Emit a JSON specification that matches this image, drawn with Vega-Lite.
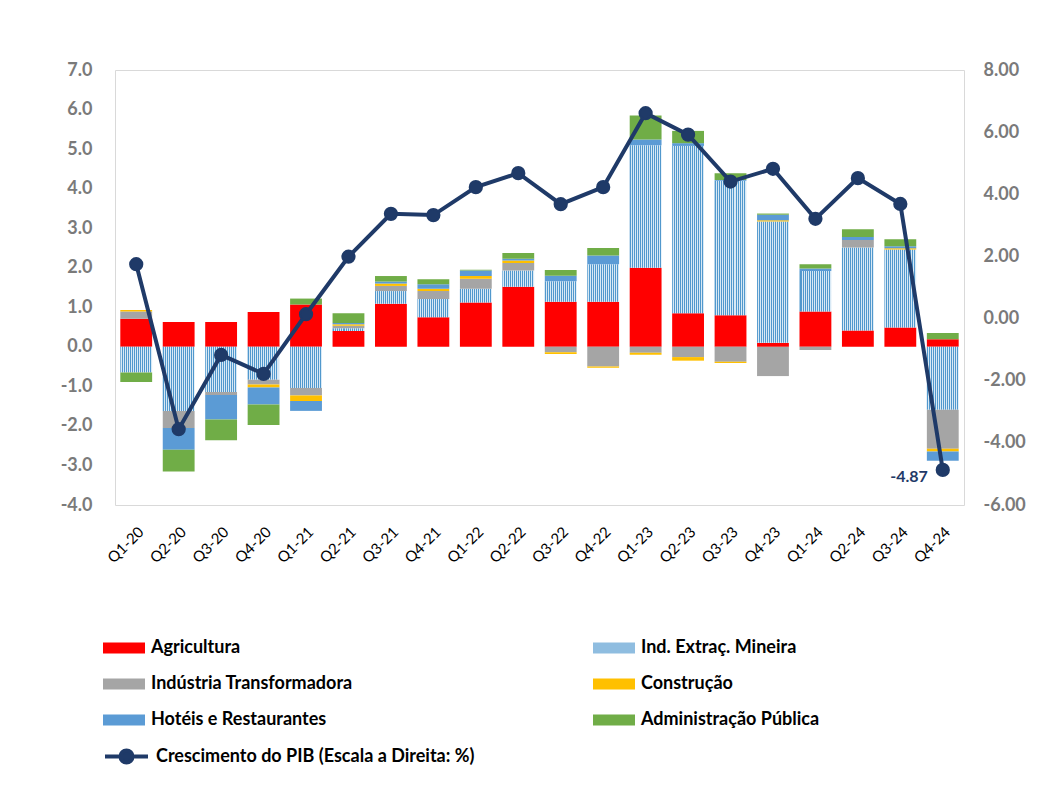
{
  "$schema": "https://vega.github.io/schema/vega-lite/v6.json",
  "width": 849,
  "height": 435,
  "autosize": {"type": "none"},
  "padding": {"left": 115, "top": 70, "right": 78, "bottom": 287},
  "background": "white",
  "config": {
    "view": {"stroke": "#d9d9d9", "strokeWidth": 1},
    "font": "Lato",
    "axis": {"labelOverlap": false},
    "locale": {"number": {"decimal": ".", "thousands": ",", "grouping": [3], "currency": ["$", ""], "minus": "-"}}
  },
  "datasets": {
    "series": [
      {"s": "Agricultura", "k": 1}, {"s": "Ind. Extraç. Mineira", "k": 2}, {"s": "Indústria Transformadora", "k": 3},
      {"s": "Construção", "k": 4}, {"s": "Hotéis e Restaurantes", "k": 5}, {"s": "Administração Pública", "k": 6}
    ],
    "sectors": [
      {"q": "Q1-20", "s": "Agricultura", "v": 0.71}, {"q": "Q1-20", "s": "Ind. Extraç. Mineira", "v": -0.65}, {"q": "Q1-20", "s": "Indústria Transformadora", "v": 0.18}, {"q": "Q1-20", "s": "Construção", "v": 0.04}, {"q": "Q1-20", "s": "Hotéis e Restaurantes", "v": 0}, {"q": "Q1-20", "s": "Administração Pública", "v": -0.24},
      {"q": "Q2-20", "s": "Agricultura", "v": 0.63}, {"q": "Q2-20", "s": "Ind. Extraç. Mineira", "v": -1.62}, {"q": "Q2-20", "s": "Indústria Transformadora", "v": -0.43}, {"q": "Q2-20", "s": "Construção", "v": 0}, {"q": "Q2-20", "s": "Hotéis e Restaurantes", "v": -0.55}, {"q": "Q2-20", "s": "Administração Pública", "v": -0.55},
      {"q": "Q3-20", "s": "Agricultura", "v": 0.63}, {"q": "Q3-20", "s": "Ind. Extraç. Mineira", "v": -1.14}, {"q": "Q3-20", "s": "Indústria Transformadora", "v": -0.08}, {"q": "Q3-20", "s": "Construção", "v": 0}, {"q": "Q3-20", "s": "Hotéis e Restaurantes", "v": -0.62}, {"q": "Q3-20", "s": "Administração Pública", "v": -0.52},
      {"q": "Q4-20", "s": "Agricultura", "v": 0.88}, {"q": "Q4-20", "s": "Ind. Extraç. Mineira", "v": -0.83}, {"q": "Q4-20", "s": "Indústria Transformadora", "v": -0.12}, {"q": "Q4-20", "s": "Construção", "v": -0.08}, {"q": "Q4-20", "s": "Hotéis e Restaurantes", "v": -0.43}, {"q": "Q4-20", "s": "Administração Pública", "v": -0.52},
      {"q": "Q1-21", "s": "Agricultura", "v": 1.07}, {"q": "Q1-21", "s": "Ind. Extraç. Mineira", "v": -1.04}, {"q": "Q1-21", "s": "Indústria Transformadora", "v": -0.19}, {"q": "Q1-21", "s": "Construção", "v": -0.14}, {"q": "Q1-21", "s": "Hotéis e Restaurantes", "v": -0.25}, {"q": "Q1-21", "s": "Administração Pública", "v": 0.15},
      {"q": "Q2-21", "s": "Agricultura", "v": 0.40}, {"q": "Q2-21", "s": "Ind. Extraç. Mineira", "v": 0.07}, {"q": "Q2-21", "s": "Indústria Transformadora", "v": 0.06}, {"q": "Q2-21", "s": "Construção", "v": 0.04}, {"q": "Q2-21", "s": "Hotéis e Restaurantes", "v": 0.03}, {"q": "Q2-21", "s": "Administração Pública", "v": 0.25},
      {"q": "Q3-21", "s": "Agricultura", "v": 1.09}, {"q": "Q3-21", "s": "Ind. Extraç. Mineira", "v": 0.32}, {"q": "Q3-21", "s": "Indústria Transformadora", "v": 0.13}, {"q": "Q3-21", "s": "Construção", "v": 0.06}, {"q": "Q3-21", "s": "Hotéis e Restaurantes", "v": 0.05}, {"q": "Q3-21", "s": "Administração Pública", "v": 0.14},
      {"q": "Q4-21", "s": "Agricultura", "v": 0.75}, {"q": "Q4-21", "s": "Ind. Extraç. Mineira", "v": 0.46}, {"q": "Q4-21", "s": "Indústria Transformadora", "v": 0.20}, {"q": "Q4-21", "s": "Construção", "v": 0.06}, {"q": "Q4-21", "s": "Hotéis e Restaurantes", "v": 0.11}, {"q": "Q4-21", "s": "Administração Pública", "v": 0.13},
      {"q": "Q1-22", "s": "Agricultura", "v": 1.12}, {"q": "Q1-22", "s": "Ind. Extraç. Mineira", "v": 0.35}, {"q": "Q1-22", "s": "Indústria Transformadora", "v": 0.25}, {"q": "Q1-22", "s": "Construção", "v": 0.07}, {"q": "Q1-22", "s": "Hotéis e Restaurantes", "v": 0.14}, {"q": "Q1-22", "s": "Administração Pública", "v": 0.02},
      {"q": "Q2-22", "s": "Agricultura", "v": 1.52}, {"q": "Q2-22", "s": "Ind. Extraç. Mineira", "v": 0.41}, {"q": "Q2-22", "s": "Indústria Transformadora", "v": 0.19}, {"q": "Q2-22", "s": "Construção", "v": 0.06}, {"q": "Q2-22", "s": "Hotéis e Restaurantes", "v": 0.05}, {"q": "Q2-22", "s": "Administração Pública", "v": 0.14},
      {"q": "Q3-22", "s": "Agricultura", "v": 1.14}, {"q": "Q3-22", "s": "Ind. Extraç. Mineira", "v": 0.52}, {"q": "Q3-22", "s": "Indústria Transformadora", "v": -0.14}, {"q": "Q3-22", "s": "Construção", "v": -0.04}, {"q": "Q3-22", "s": "Hotéis e Restaurantes", "v": 0.14}, {"q": "Q3-22", "s": "Administração Pública", "v": 0.14},
      {"q": "Q4-22", "s": "Agricultura", "v": 1.14}, {"q": "Q4-22", "s": "Ind. Extraç. Mineira", "v": 0.95}, {"q": "Q4-22", "s": "Indústria Transformadora", "v": -0.50}, {"q": "Q4-22", "s": "Construção", "v": -0.03}, {"q": "Q4-22", "s": "Hotéis e Restaurantes", "v": 0.22}, {"q": "Q4-22", "s": "Administração Pública", "v": 0.19},
      {"q": "Q1-23", "s": "Agricultura", "v": 2.00}, {"q": "Q1-23", "s": "Ind. Extraç. Mineira", "v": 3.10}, {"q": "Q1-23", "s": "Indústria Transformadora", "v": -0.15}, {"q": "Q1-23", "s": "Construção", "v": -0.05}, {"q": "Q1-23", "s": "Hotéis e Restaurantes", "v": 0.14}, {"q": "Q1-23", "s": "Administração Pública", "v": 0.61},
      {"q": "Q2-23", "s": "Agricultura", "v": 0.85}, {"q": "Q2-23", "s": "Ind. Extraç. Mineira", "v": 4.23}, {"q": "Q2-23", "s": "Indústria Transformadora", "v": -0.26}, {"q": "Q2-23", "s": "Construção", "v": -0.09}, {"q": "Q2-23", "s": "Hotéis e Restaurantes", "v": 0.07}, {"q": "Q2-23", "s": "Administração Pública", "v": 0.31},
      {"q": "Q3-23", "s": "Agricultura", "v": 0.80}, {"q": "Q3-23", "s": "Ind. Extraç. Mineira", "v": 3.40}, {"q": "Q3-23", "s": "Indústria Transformadora", "v": -0.38}, {"q": "Q3-23", "s": "Construção", "v": -0.03}, {"q": "Q3-23", "s": "Hotéis e Restaurantes", "v": 0.02}, {"q": "Q3-23", "s": "Administração Pública", "v": 0.17},
      {"q": "Q4-23", "s": "Agricultura", "v": 0.10}, {"q": "Q4-23", "s": "Ind. Extraç. Mineira", "v": 3.07}, {"q": "Q4-23", "s": "Indústria Transformadora", "v": -0.74}, {"q": "Q4-23", "s": "Construção", "v": 0.03}, {"q": "Q4-23", "s": "Hotéis e Restaurantes", "v": 0.14}, {"q": "Q4-23", "s": "Administração Pública", "v": 0.03},
      {"q": "Q1-24", "s": "Agricultura", "v": 0.89}, {"q": "Q1-24", "s": "Ind. Extraç. Mineira", "v": 1.03}, {"q": "Q1-24", "s": "Indústria Transformadora", "v": -0.08}, {"q": "Q1-24", "s": "Construção", "v": 0}, {"q": "Q1-24", "s": "Hotéis e Restaurantes", "v": 0.06}, {"q": "Q1-24", "s": "Administração Pública", "v": 0.11},
      {"q": "Q2-24", "s": "Agricultura", "v": 0.41}, {"q": "Q2-24", "s": "Ind. Extraç. Mineira", "v": 2.10}, {"q": "Q2-24", "s": "Indústria Transformadora", "v": 0.19}, {"q": "Q2-24", "s": "Construção", "v": 0}, {"q": "Q2-24", "s": "Hotéis e Restaurantes", "v": 0.08}, {"q": "Q2-24", "s": "Administração Pública", "v": 0.19},
      {"q": "Q3-24", "s": "Agricultura", "v": 0.49}, {"q": "Q3-24", "s": "Ind. Extraç. Mineira", "v": 1.97}, {"q": "Q3-24", "s": "Indústria Transformadora", "v": 0}, {"q": "Q3-24", "s": "Construção", "v": 0.03}, {"q": "Q3-24", "s": "Hotéis e Restaurantes", "v": 0.05}, {"q": "Q3-24", "s": "Administração Pública", "v": 0.18},
      {"q": "Q4-24", "s": "Agricultura", "v": 0.19}, {"q": "Q4-24", "s": "Ind. Extraç. Mineira", "v": -1.59}, {"q": "Q4-24", "s": "Indústria Transformadora", "v": -0.99}, {"q": "Q4-24", "s": "Construção", "v": -0.07}, {"q": "Q4-24", "s": "Hotéis e Restaurantes", "v": -0.23}, {"q": "Q4-24", "s": "Administração Pública", "v": 0.16}
    ],
    "gdp": [
      {"q": "Q1-20", "g": 1.75}, {"q": "Q2-20", "g": -3.56}, {"q": "Q3-20", "g": -1.17}, {"q": "Q4-20", "g": -1.78},
      {"q": "Q1-21", "g": 0.14}, {"q": "Q2-21", "g": 1.99}, {"q": "Q3-21", "g": 3.37}, {"q": "Q4-21", "g": 3.33},
      {"q": "Q1-22", "g": 4.23}, {"q": "Q2-22", "g": 4.68}, {"q": "Q3-22", "g": 3.68}, {"q": "Q4-22", "g": 4.23},
      {"q": "Q1-23", "g": 6.61}, {"q": "Q2-23", "g": 5.92}, {"q": "Q3-23", "g": 4.41}, {"q": "Q4-23", "g": 4.82},
      {"q": "Q1-24", "g": 3.21}, {"q": "Q2-24", "g": 4.52}, {"q": "Q3-24", "g": 3.69}, {"q": "Q4-24", "g": -4.87}
    ]
  },
  "encoding": {
    "x": {
      "field": "q", "type": "ordinal", "sort": null,
      "scale": {"paddingInner": 0.25, "paddingOuter": 0.125},
      "axis": {"title": null, "labelAngle": -45, "labelFont": "Lato", "labelFontSize": 15, "labelColor": "#000000", "domain": false, "ticks": false, "labelPadding": 19}
    }
  },
  "layer": [
    {
      "layer": [
        {
          "mark": {"type": "rule", "color": "#d9d9d9", "strokeWidth": 2},
          "encoding": {
            "y": {
              "datum": 0, "type": "quantitative",
              "axis": {"orient": "left", "title": null, "values": [-4, -3, -2, -1, 0, 1, 2, 3, 4, 5, 6, 7], "format": ".1f", "labelOverlap": false, "labelFont": "Lato", "labelFontSize": 18, "labelFontWeight": "bold", "labelColor": "#7a7a7a", "domain": false, "ticks": false, "grid": false, "labelPadding": 23}
            },
            "x": null
          }
        },
        {
          "data": {"name": "sectors"},
          "transform": [{"lookup": "s", "from": {"data": {"name": "series"}, "key": "s", "fields": ["k"]}}],
          "mark": {"type": "bar", "strokeWidth": 0},
          "encoding": {
            "y": {
              "field": "v", "type": "quantitative", "stack": "zero",
              "scale": {"domain": [-4, 7], "nice": false},
              "axis": {"orient": "left", "title": null, "values": [-4, -3, -2, -1, 0, 1, 2, 3, 4, 5, 6, 7], "format": ".1f", "labelOverlap": false, "labelFont": "Lato", "labelFontSize": 18, "labelFontWeight": "bold", "labelColor": "#7a7a7a", "domain": false, "ticks": false, "grid": false, "labelPadding": 23}
            },
            "order": {"field": "k", "type": "quantitative"},
            "color": {
              "condition": {
                "test": "datum.s === 'Ind. Extraç. Mineira'",
                "value": {"gradient": "linear", "x1": 0, "y1": 0, "x2": 1, "y2": 0, "stops": [
                    {"offset": 0, "color": "#5198cd"}, {"offset": 0.03125, "color": "#5198cd"}, {"offset": 0.03125, "color": "#d8e9f5"}, {"offset": 0.0625, "color": "#d8e9f5"},
                    {"offset": 0.0625, "color": "#5198cd"}, {"offset": 0.09375, "color": "#5198cd"}, {"offset": 0.09375, "color": "#d8e9f5"}, {"offset": 0.125, "color": "#d8e9f5"},
                    {"offset": 0.125, "color": "#5198cd"}, {"offset": 0.15625, "color": "#5198cd"}, {"offset": 0.15625, "color": "#d8e9f5"}, {"offset": 0.1875, "color": "#d8e9f5"},
                    {"offset": 0.1875, "color": "#5198cd"}, {"offset": 0.21875, "color": "#5198cd"}, {"offset": 0.21875, "color": "#d8e9f5"}, {"offset": 0.25, "color": "#d8e9f5"},
                    {"offset": 0.25, "color": "#5198cd"}, {"offset": 0.28125, "color": "#5198cd"}, {"offset": 0.28125, "color": "#d8e9f5"}, {"offset": 0.3125, "color": "#d8e9f5"},
                    {"offset": 0.3125, "color": "#5198cd"}, {"offset": 0.34375, "color": "#5198cd"}, {"offset": 0.34375, "color": "#d8e9f5"}, {"offset": 0.375, "color": "#d8e9f5"},
                    {"offset": 0.375, "color": "#5198cd"}, {"offset": 0.40625, "color": "#5198cd"}, {"offset": 0.40625, "color": "#d8e9f5"}, {"offset": 0.4375, "color": "#d8e9f5"},
                    {"offset": 0.4375, "color": "#5198cd"}, {"offset": 0.46875, "color": "#5198cd"}, {"offset": 0.46875, "color": "#d8e9f5"}, {"offset": 0.5, "color": "#d8e9f5"},
                    {"offset": 0.5, "color": "#5198cd"}, {"offset": 0.53125, "color": "#5198cd"}, {"offset": 0.53125, "color": "#d8e9f5"}, {"offset": 0.5625, "color": "#d8e9f5"},
                    {"offset": 0.5625, "color": "#5198cd"}, {"offset": 0.59375, "color": "#5198cd"}, {"offset": 0.59375, "color": "#d8e9f5"}, {"offset": 0.625, "color": "#d8e9f5"},
                    {"offset": 0.625, "color": "#5198cd"}, {"offset": 0.65625, "color": "#5198cd"}, {"offset": 0.65625, "color": "#d8e9f5"}, {"offset": 0.6875, "color": "#d8e9f5"},
                    {"offset": 0.6875, "color": "#5198cd"}, {"offset": 0.71875, "color": "#5198cd"}, {"offset": 0.71875, "color": "#d8e9f5"}, {"offset": 0.75, "color": "#d8e9f5"},
                    {"offset": 0.75, "color": "#5198cd"}, {"offset": 0.78125, "color": "#5198cd"}, {"offset": 0.78125, "color": "#d8e9f5"}, {"offset": 0.8125, "color": "#d8e9f5"},
                    {"offset": 0.8125, "color": "#5198cd"}, {"offset": 0.84375, "color": "#5198cd"}, {"offset": 0.84375, "color": "#d8e9f5"}, {"offset": 0.875, "color": "#d8e9f5"},
                    {"offset": 0.875, "color": "#5198cd"}, {"offset": 0.90625, "color": "#5198cd"}, {"offset": 0.90625, "color": "#d8e9f5"}, {"offset": 0.9375, "color": "#d8e9f5"},
                    {"offset": 0.9375, "color": "#5198cd"}, {"offset": 0.96875, "color": "#5198cd"}, {"offset": 0.96875, "color": "#d8e9f5"}, {"offset": 1, "color": "#d8e9f5"}
                ]}
              },
              "field": "s", "type": "nominal",
              "scale": {
                "domain": ["Agricultura", "Ind. Extraç. Mineira", "Indústria Transformadora", "Construção", "Hotéis e Restaurantes", "Administração Pública"],
                "range": ["#ff0000", "#8fbde0", "#a5a5a5", "#ffc000", "#5b9bd5", "#70ad47"]
              },
              "legend": {
                "title": null, "orient": "none", "legendX": -12, "legendY": 557,
                "values": ["Agricultura", "Indústria Transformadora", "Hotéis e Restaurantes", "Ind. Extraç. Mineira", "Construção", "Administração Pública"],
                "columns": 2, "columnPadding": 240, "rowPadding": 6,
                "symbolType": "M-1,-0.26H1V0.26H-1Z", "symbolSize": 1764, "symbolStrokeWidth": 0,
                "labelFont": "Lato", "labelFontSize": 18, "labelFontWeight": "bold", "labelColor": "#000000", "labelOffset": 6, "labelLimit": 0,
                "encode": {"symbols": {"update": {"fill": [
                  {"test": "datum.value === 'Ind. Extraç. Mineira'", "value": {"gradient": "linear", "x1": 0, "y1": 0, "x2": 1, "y2": 0, "stops": [
                    {"offset": 0, "color": "#5198cd"}, {"offset": 0.04, "color": "#5198cd"}, {"offset": 0.04, "color": "#d8e9f5"}, {"offset": 0.08, "color": "#d8e9f5"},
                    {"offset": 0.08, "color": "#5198cd"}, {"offset": 0.12, "color": "#5198cd"}, {"offset": 0.12, "color": "#d8e9f5"}, {"offset": 0.16, "color": "#d8e9f5"},
                    {"offset": 0.16, "color": "#5198cd"}, {"offset": 0.2, "color": "#5198cd"}, {"offset": 0.2, "color": "#d8e9f5"}, {"offset": 0.24, "color": "#d8e9f5"},
                    {"offset": 0.24, "color": "#5198cd"}, {"offset": 0.28, "color": "#5198cd"}, {"offset": 0.28, "color": "#d8e9f5"}, {"offset": 0.32, "color": "#d8e9f5"},
                    {"offset": 0.32, "color": "#5198cd"}, {"offset": 0.36, "color": "#5198cd"}, {"offset": 0.36, "color": "#d8e9f5"}, {"offset": 0.4, "color": "#d8e9f5"},
                    {"offset": 0.4, "color": "#5198cd"}, {"offset": 0.44, "color": "#5198cd"}, {"offset": 0.44, "color": "#d8e9f5"}, {"offset": 0.48, "color": "#d8e9f5"},
                    {"offset": 0.48, "color": "#5198cd"}, {"offset": 0.52, "color": "#5198cd"}, {"offset": 0.52, "color": "#d8e9f5"}, {"offset": 0.56, "color": "#d8e9f5"},
                    {"offset": 0.56, "color": "#5198cd"}, {"offset": 0.6, "color": "#5198cd"}, {"offset": 0.6, "color": "#d8e9f5"}, {"offset": 0.64, "color": "#d8e9f5"},
                    {"offset": 0.64, "color": "#5198cd"}, {"offset": 0.68, "color": "#5198cd"}, {"offset": 0.68, "color": "#d8e9f5"}, {"offset": 0.72, "color": "#d8e9f5"},
                    {"offset": 0.72, "color": "#5198cd"}, {"offset": 0.76, "color": "#5198cd"}, {"offset": 0.76, "color": "#d8e9f5"}, {"offset": 0.8, "color": "#d8e9f5"},
                    {"offset": 0.8, "color": "#5198cd"}, {"offset": 0.84, "color": "#5198cd"}, {"offset": 0.84, "color": "#d8e9f5"}, {"offset": 0.88, "color": "#d8e9f5"},
                    {"offset": 0.88, "color": "#5198cd"}, {"offset": 0.92, "color": "#5198cd"}, {"offset": 0.92, "color": "#d8e9f5"}, {"offset": 0.96, "color": "#d8e9f5"},
                    {"offset": 0.96, "color": "#5198cd"}, {"offset": 1, "color": "#5198cd"}
                  ]}},
                  {"scale": "color", "field": "value"}
                ]}}}
              }
            }
          }
        }
      ]
    },
    {
      "data": {"name": "gdp"},
      "layer": [
        {
          "mark": {"type": "line", "strokeWidth": 4, "point": {"filled": true, "size": 150, "color": "#1f3a68"}},
          "encoding": {
            "y": {
              "field": "g", "type": "quantitative",
              "scale": {"domain": [-6, 8], "nice": false},
              "axis": {"orient": "right", "title": null, "values": [-6, -4, -2, 0, 2, 4, 6, 8], "format": ".2f", "labelOverlap": false, "labelFont": "Lato", "labelFontSize": 18, "labelFontWeight": "bold", "labelColor": "#7a7a7a", "domain": false, "ticks": false, "grid": false, "labelPadding": 19}
            },
            "stroke": {
              "datum": "Crescimento do PIB (Escala a Direita: %)",
              "scale": {"range": ["#1f3a68"]},
              "legend": {
                "title": null, "orient": "none", "legendX": -12, "legendY": 663,
                "symbolType": "M-1,0H1M-0.28,0A0.28,0.28,0,1,1,0.28,0A0.28,0.28,0,1,1,-0.28,0Z", "symbolSize": 1849, "symbolStrokeWidth": 4,
                "symbolFillColor": "#1f3a68",
                "labelFont": "Lato", "labelFontSize": 18, "labelFontWeight": "bold", "labelColor": "#000000", "labelOffset": 6, "labelLimit": 0,
                "encode": {"symbols": {"update": {"fill": {"value": "#1f3a68"}, "stroke": {"value": "#1f3a68"}}}}
              }
            }
          }
        },
        {
          "transform": [{"filter": "datum.q == 'Q4-24'"}],
          "mark": {"type": "text", "align": "right", "baseline": "middle", "dx": -15, "dy": 7, "font": "Lato", "fontSize": 16, "fontWeight": "bold", "color": "#1f3a68"},
          "encoding": {
            "y": {"field": "g", "type": "quantitative"},
            "text": {"field": "g", "type": "quantitative", "format": ".2f"}
          }
        }
      ]
    }
  ],
  "resolve": {"scale": {"y": "independent"}}
}
